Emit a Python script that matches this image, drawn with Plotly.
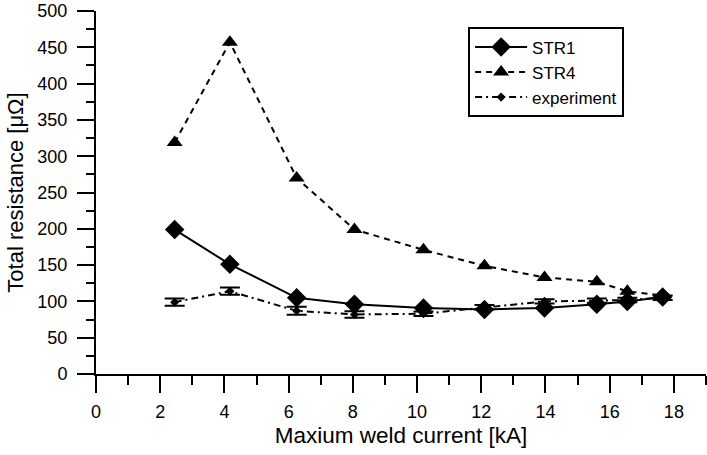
import plotly.graph_objects as go

current = [2.45, 4.17, 6.25, 8.05, 10.2, 12.1, 13.97, 15.6, 16.55, 17.65]
str1 = [199, 151, 105, 96, 91, 89, 91, 96, 100, 106]
str4 = [319, 457, 270, 199, 171, 149, 133, 127, 114, 108]
experiment = [99, 114, 87, 82, 83, 92, 100, 101, 102, 105]
exp_err = [5, 5, 5.5, 4.6, 3, 3, 3, 3, 3, 3]

FONT = "Liberation Sans, Arial, sans-serif"

fig = go.Figure()
fig.add_trace(go.Scatter(
    x=current, y=str1, name="STR1", mode="lines+markers",
    line=dict(color="black", width=2, dash="solid"),
    marker=dict(symbol="diamond", size=15, color="black"),
))
fig.add_trace(go.Scatter(
    x=current, y=str4, name="STR4", mode="lines+markers",
    line=dict(color="black", width=2, dash="6px,5px"),
    marker=dict(symbol="triangle-up", size=14, color="black"),
))
fig.add_trace(go.Scatter(
    x=current, y=experiment, name="experiment", mode="lines+markers",
    line=dict(color="black", width=2, dash="7px,4px,2px,4px"),
    marker=dict(symbol="diamond", size=7, color="black"),
    error_y=dict(type="data", array=exp_err, visible=True, color="black",
                 thickness=2, width=10),
))

fig.update_layout(
    width=707, height=455,
    margin=dict(l=96, r=1, t=11, b=81),
    paper_bgcolor="white", plot_bgcolor="white",
    font=dict(family=FONT, color="black", size=18),
    showlegend=True,
    legend=dict(
        x=0.61, y=0.955, xanchor="left", yanchor="top",
        bordercolor="black", borderwidth=2, bgcolor="white",
        font=dict(family=FONT, size=17, color="black"),
        tracegroupgap=0, itemwidth=52,
    ),
    xaxis=dict(
        range=[0, 19], tickmode="array",
        tickvals=[0, 2, 4, 6, 8, 10, 12, 14, 16, 18],
        showgrid=False, zeroline=False,
        showline=True, linecolor="black", linewidth=2,
        ticks="outside", ticklen=17, tickwidth=2, tickcolor="black",
        minor=dict(dtick=1, tick0=0, ticks="outside", ticklen=9, tickwidth=2, tickcolor="black", showgrid=False),
        tickfont=dict(family=FONT, size=18, color="black"), ticklabelstandoff=3,
        title=dict(text="Maxium weld current [kA]", font=dict(family=FONT, size=22.5), standoff=7),
    ),
    yaxis=dict(
        range=[0, 500], dtick=50, tick0=0,
        showgrid=False, zeroline=False,
        showline=True, linecolor="black", linewidth=2,
        ticks="outside", ticklen=17, tickwidth=2, tickcolor="black",
        minor=dict(dtick=25, tick0=0, ticks="outside", ticklen=8, tickwidth=2, tickcolor="black", showgrid=False),
        tickfont=dict(family=FONT, size=18, color="black"), ticklabelstandoff=6,
        title=dict(text="Total resistance [μΩ]", font=dict(family=FONT, size=22), standoff=8),
    ),
)

fig.write_html("out.html")
